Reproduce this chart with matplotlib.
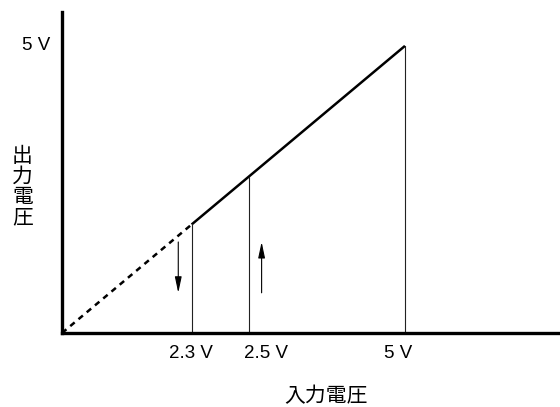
import matplotlib
matplotlib.use("Agg")
import matplotlib.pyplot as plt

plt.rcParams['font.family'] = ['Liberation Sans', 'Noto Sans CJK JP', 'DejaVu Sans']

# schematic positions (not to scale) of the switching thresholds
thresh_x = [1.89, 2.72, 5.0]
tick_labels = ["2.3 V", "2.5 V", "5 V"]
tick_label_x = [1.88, 2.97, 4.90]
y_top_label = "5 V"
x_name = "入力電圧"
y_name = "出力電圧"

# hysteresis arrows: (x, y_start, y_end)
arrow_down = (1.695, 1.585, 0.70)
arrow_up = (2.91, 0.70, 1.585)

fig = plt.figure(figsize=(5.6, 4.07), dpi=100)
ax = fig.add_axes([62 / 560, 74 / 407, 498 / 560, 321 / 407])
ax.set_xlim(0, 7.26)
ax.set_ylim(0, 5.59)

for s in ['top', 'right']:
    ax.spines[s].set_visible(False)
for s in ['left', 'bottom']:
    ax.spines[s].set_linewidth(2.4)
ax.set_xticks([])
ax.set_yticks([])

# transfer curve: dashed below the lower threshold, solid above
ax.plot([0, thresh_x[0]], [0, thresh_x[0]], color='black', lw=1.8,
        dashes=(2.3, 2.0), clip_on=False)
ax.plot([thresh_x[0], thresh_x[2]], [thresh_x[0], thresh_x[2]],
        color='black', lw=1.8, solid_capstyle='butt')

# vertical guide lines
for x in thresh_x:
    ax.plot([x, x], [0, x], color='#222222', lw=0.8)

for x, y0, y1 in [arrow_down, arrow_up]:
    ax.annotate('', xy=(x, y1), xytext=(x, y0),
                arrowprops=dict(arrowstyle='-|>,head_length=0.8,head_width=0.17',
                                color='black', lw=0.8, shrinkA=0, shrinkB=0,
                                mutation_scale=12))

tr = ax.get_xaxis_transform()
for x, lab in zip(tick_label_x, tick_labels):
    ax.text(x, -0.064, lab, transform=tr, ha='center', va='center', fontsize=13.5)

ax.text(-0.024, 5.0, y_top_label, transform=ax.get_yaxis_transform(),
        ha='right', va='center', fontsize=13.5)

fig.text(326 / 560, 1 - 396 / 407, x_name, ha='center', va='center', fontsize=15)
fig.text(22.5 / 560, 1 - 187 / 407, "\n".join(y_name), ha='center', va='center',
         fontsize=15, linespacing=1.08)

fig.savefig('out.png', dpi=100)
